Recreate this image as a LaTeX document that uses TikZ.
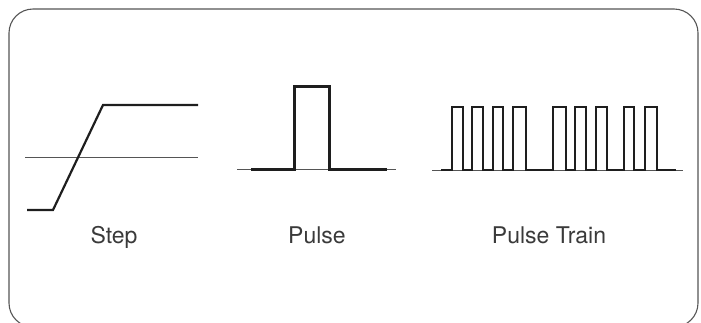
\documentclass[tikz,border=0pt]{standalone}
\usepackage{fontspec}
\setmainfont{TeX Gyre Heros}
\usetikzlibrary{positioning}

\definecolor{ink}{HTML}{1E1E1E}
\definecolor{axis}{HTML}{555555}
\definecolor{label}{HTML}{3A3A3A}

\tikzset{
  signal/.style={ink, line width=2.2pt, line join=miter},
  thinsig/.style={ink, line width=1.4pt},
  baseline/.style={axis, line width=0.9pt},
  caption/.style={anchor=base, text=label, font=\fontsize{23}{26}\selectfont}
}

\begin{document}
\begin{tikzpicture}[x=1pt, y=-1pt]
    \useasboundingbox (0,0) rectangle (701,322);
    \clip (0,0) rectangle (701,322);
    \draw[axis, line width=1.1pt, rounded corners=24pt] (9,9) rectangle (698,327);

    % step
    \draw[baseline] (25,157) -- (198,157);
    \draw[signal] (27,210) -- (53,210) -- (103,105) -- (198,105);
    \node[caption] (step) at (114,243) {Step};

    % pulse
    \draw[baseline] (237,169) -- (396,169);
    \draw[signal, line width=3pt] (251,169) -- (294,169) -- (294,86) -- (329,86)
      -- (329,169) -- (387,169);
    \node[caption] (pulse) at (317,243) {Pulse};

    % pulse train
    \draw[baseline] (432,170) -- (683,170);
    \draw[thinsig] (441,170)
      foreach \a/\b in {452/463, 472/483, 493/503, 513/526, 553/566,
                        575/586, 596/607, 624/634, 645/657}
        { -- (\a,170) -- (\a,107) -- (\b,107) -- (\b,170) }
      -- (676,170);
    \node[caption] (train) at (549,243) {Pulse Train};
  \end{tikzpicture}
\end{document}
